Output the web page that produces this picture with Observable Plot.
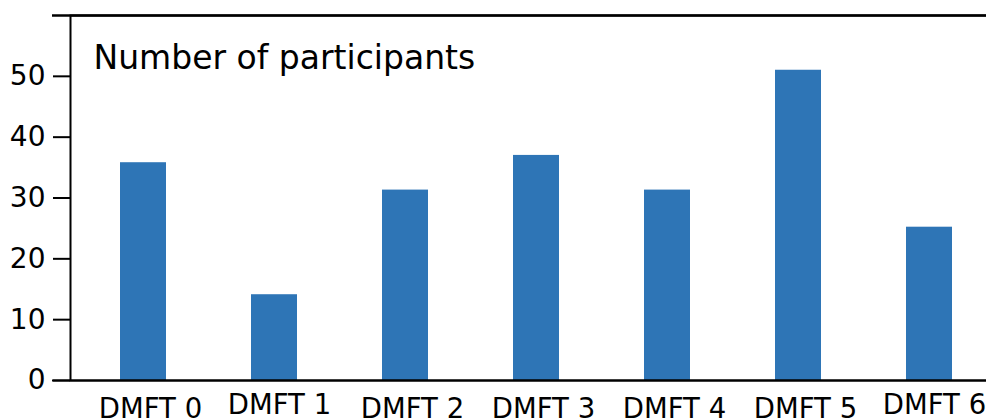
<!DOCTYPE html>
<html>
<head>
<meta charset="utf-8">
<script src="https://cdn.jsdelivr.net/npm/d3@7"></script>
<script src="https://cdn.jsdelivr.net/npm/@observablehq/plot@0.6"></script>
<style>
  html, body { margin: 0; padding: 0; background: #fff; }
  #chart svg { display: block; }
</style>
</head>
<body>
<div id="chart"></div>
<script>
const categories = ["DMFT 0", "DMFT 1", "DMFT 2", "DMFT 3", "DMFT 4", "DMFT 5", "DMFT 6"];
const participants = [35.8, 14.1, 31.3, 37.0, 31.3, 51.0, 25.2];
const yTicks = [0, 10, 20, 30, 40, 50];
const title = "Number of participants";

const data = categories.map((c, i) => ({ cat: c, value: participants[i] }));
const lowTicks = categories.filter((c, i) => i !== 1 && i !== 6);
const highTicks = categories.filter((c, i) => i === 1 || i === 6);

const chart = Plot.plot({
  width: 986,
  height: 419,
  marginTop: 15,
  marginBottom: 39,
  marginLeft: 70,
  marginRight: 0,
  style: { fontFamily: "'DejaVu Sans', sans-serif", color: "#000", background: "#fff", overflow: "hidden" },
  x: { domain: categories, paddingInner: 0.647, paddingOuter: 0.2985, align: 0.597 },
  y: { domain: [0, 60] },
  marks: [
    Plot.barY(data, { x: "cat", y: "value", fill: "#2E75B6" }),
    Plot.frame({ stroke: "#000", strokeWidth: 2, insetRight: -20 }),
    Plot.ruleY([0], { stroke: "#000", strokeWidth: 2, insetLeft: -18 }),
    Plot.ruleY([60], { stroke: "#000", strokeWidth: 2.5, insetLeft: -18 }),
    Plot.axisY(yTicks, { tickSize: 17, tickPadding: 8, fontSize: 28, strokeWidth: 2, stroke: "#000", label: null, tickFormat: d => String(d) }),
    Plot.axisX(lowTicks, { tickSize: 0, tickPadding: 0, fontSize: 27.5, dx: 7, dy: 17.5, label: null }),
    Plot.axisX(highTicks, { tickSize: 0, tickPadding: 0, fontSize: 27.5, dx: 5, dy: 13.5, label: null }),
    Plot.text([title], { frameAnchor: "top-left", dx: 23, dy: 30, fontSize: 33, textAnchor: "start", lineAnchor: "top", fill: "#000" })
  ]
});
document.getElementById("chart").appendChild(chart);
</script>
</body>
</html>
